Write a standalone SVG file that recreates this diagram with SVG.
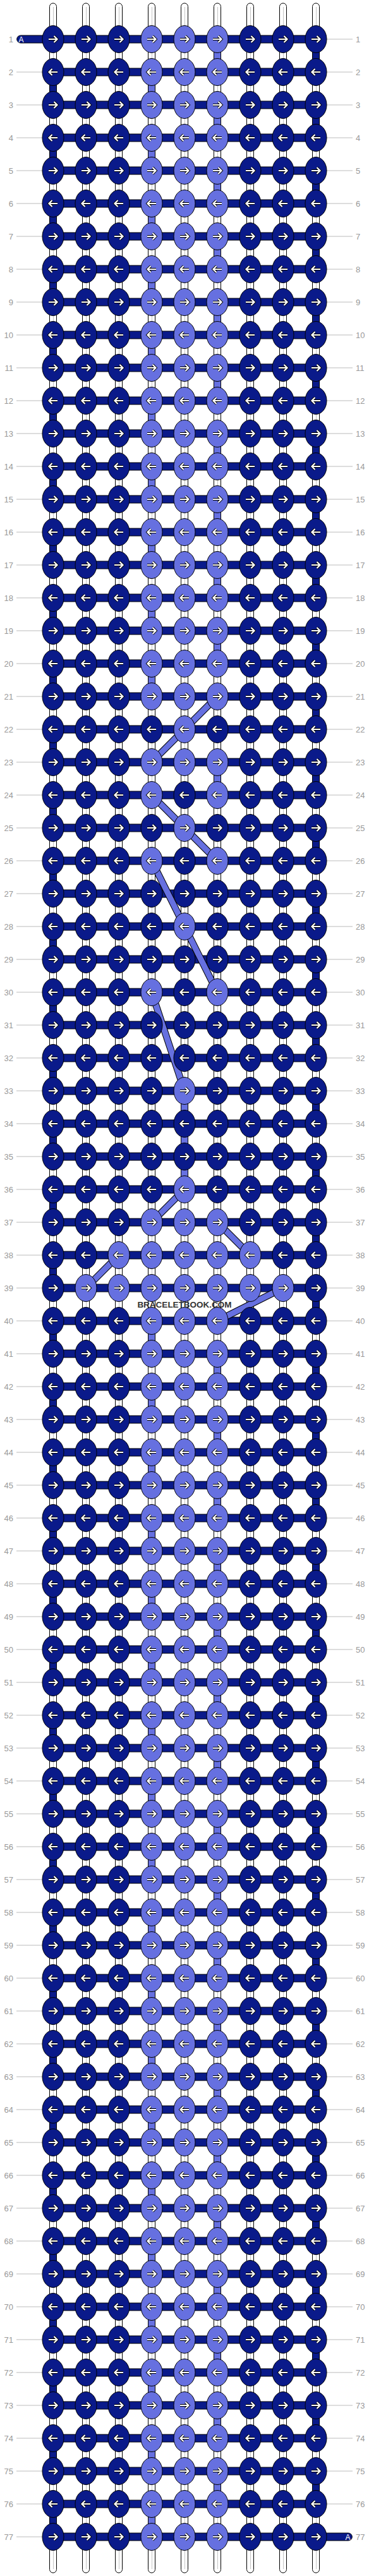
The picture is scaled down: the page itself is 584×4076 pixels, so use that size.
<svg xmlns="http://www.w3.org/2000/svg" xmlns:xlink="http://www.w3.org/1999/xlink" width="584" height="4076" viewBox="0 0 584 4076">
<defs>
<style>
.kn{fill:#0a1a8a;stroke:#000;stroke-width:1}
.kl{fill:#6670e0;stroke:#000;stroke-width:1}
.ao{fill:none;stroke:#000;stroke-width:4}
.aw{fill:none;stroke:#fff;stroke-width:2.2}
.vw{fill:#fff;stroke:#000;stroke-width:1}
.vg{stroke:#c4c4c4;stroke-width:1}
.ln{fill:none;stroke:#bbb;stroke-width:1}
.t{font-family:"Liberation Sans",Arial,sans-serif;font-size:13px;fill:#999}
.e{text-anchor:end}
.d1{fill:none;stroke:#000;stroke-width:11}
.d2{fill:none;stroke:#6670e0;stroke-width:9}
.at{font-family:"Liberation Sans",Arial,sans-serif;font-size:12px;fill:#fff;text-anchor:middle}
</style>
<path id="pr" d="M-7,0H5.5M1.5,-5L6.5,0L1.5,5"/>
<path id="pl" d="M7,0H-5.5M-1.5,-5L-6.5,0L-1.5,5"/>
<g id="NR"><ellipse class="kn" rx="17" ry="21.5"/><use href="#pr" class="ao"/><use href="#pr" class="aw"/></g>
<g id="NL"><ellipse class="kn" rx="17" ry="21.5"/><use href="#pl" class="ao"/><use href="#pl" class="aw"/></g>
<g id="LR"><ellipse class="kl" rx="17" ry="21.5"/><use href="#pr" class="ao"/><use href="#pr" class="aw"/></g>
<g id="LL"><ellipse class="kl" rx="17" ry="21.5"/><use href="#pl" class="ao"/><use href="#pl" class="aw"/></g>
<g id="rO"><use href="#NR" x="84"/><use href="#NR" x="136"/><use href="#NR" x="188"/><use href="#LR" x="240"/><use href="#LR" x="292"/><use href="#LR" x="344"/><use href="#NR" x="396"/><use href="#NR" x="448"/><use href="#NR" x="500"/></g>
<g id="rE"><use href="#NL" x="84"/><use href="#NL" x="136"/><use href="#NL" x="188"/><use href="#LL" x="240"/><use href="#LL" x="292"/><use href="#LL" x="344"/><use href="#NL" x="396"/><use href="#NL" x="448"/><use href="#NL" x="500"/></g>
<g id="rE5"><use href="#NL" x="84"/><use href="#NL" x="136"/><use href="#NL" x="188"/><use href="#NL" x="240"/><use href="#LL" x="292"/><use href="#NL" x="344"/><use href="#NL" x="396"/><use href="#NL" x="448"/><use href="#NL" x="500"/></g>
<g id="rO5"><use href="#NR" x="84"/><use href="#NR" x="136"/><use href="#NR" x="188"/><use href="#NR" x="240"/><use href="#LR" x="292"/><use href="#NR" x="344"/><use href="#NR" x="396"/><use href="#NR" x="448"/><use href="#NR" x="500"/></g>
<g id="rE46"><use href="#NL" x="84"/><use href="#NL" x="136"/><use href="#NL" x="188"/><use href="#LL" x="240"/><use href="#NL" x="292"/><use href="#LL" x="344"/><use href="#NL" x="396"/><use href="#NL" x="448"/><use href="#NL" x="500"/></g>
<g id="rON"><use href="#NR" x="84"/><use href="#NR" x="136"/><use href="#NR" x="188"/><use href="#NR" x="240"/><use href="#NR" x="292"/><use href="#NR" x="344"/><use href="#NR" x="396"/><use href="#NR" x="448"/><use href="#NR" x="500"/></g>
<g id="rEN"><use href="#NL" x="84"/><use href="#NL" x="136"/><use href="#NL" x="188"/><use href="#NL" x="240"/><use href="#NL" x="292"/><use href="#NL" x="344"/><use href="#NL" x="396"/><use href="#NL" x="448"/><use href="#NL" x="500"/></g>
<g id="r38"><use href="#NL" x="84"/><use href="#NL" x="136"/><use href="#LL" x="188"/><use href="#LL" x="240"/><use href="#LL" x="292"/><use href="#LL" x="344"/><use href="#LL" x="396"/><use href="#NL" x="448"/><use href="#NL" x="500"/></g>
<g id="r39"><use href="#NR" x="84"/><use href="#LR" x="136"/><use href="#LR" x="188"/><use href="#LR" x="240"/><use href="#LR" x="292"/><use href="#LR" x="344"/><use href="#LR" x="396"/><use href="#LR" x="448"/><use href="#NR" x="500"/></g>
<g id="nP"><use href="#rO"/><use href="#rE" y="52"/></g>
<g id="vW"><rect class="vw" x="-5.5" width="11" height="52"/><line class="vg" x1="0.5" x2="0.5" y1="0" y2="52"/></g>
<rect id="vN" class="kn" x="-5.5" width="11" height="52"/>
<rect id="vL" class="kl" x="-5.5" width="11" height="52"/>
<g id="gO"><use href="#vW" x="84"/><use href="#vW" x="136"/><use href="#vW" x="188"/><use href="#vW" x="240"/><use href="#vW" x="292"/><use href="#vL" x="344"/><use href="#vW" x="396"/><use href="#vW" x="448"/><use href="#vN" x="500"/></g>
<g id="gE"><use href="#vN" x="84"/><use href="#vW" x="136"/><use href="#vW" x="188"/><use href="#vL" x="240"/><use href="#vW" x="292"/><use href="#vW" x="344"/><use href="#vW" x="396"/><use href="#vW" x="448"/><use href="#vW" x="500"/></g>
<g id="gO0"><use href="#vW" x="84"/><use href="#vW" x="136"/><use href="#vW" x="188"/><use href="#vW" x="240"/><use href="#vW" x="292"/><use href="#vW" x="344"/><use href="#vW" x="396"/><use href="#vW" x="448"/><use href="#vN" x="500"/></g>
<g id="gE0"><use href="#vN" x="84"/><use href="#vW" x="136"/><use href="#vW" x="188"/><use href="#vW" x="240"/><use href="#vW" x="292"/><use href="#vW" x="344"/><use href="#vW" x="396"/><use href="#vW" x="448"/><use href="#vW" x="500"/></g>
<g id="gO5"><use href="#vW" x="84"/><use href="#vW" x="136"/><use href="#vW" x="188"/><use href="#vW" x="240"/><use href="#vL" x="292"/><use href="#vW" x="344"/><use href="#vW" x="396"/><use href="#vW" x="448"/><use href="#vN" x="500"/></g>
<g id="gE5"><use href="#vN" x="84"/><use href="#vW" x="136"/><use href="#vW" x="188"/><use href="#vW" x="240"/><use href="#vL" x="292"/><use href="#vW" x="344"/><use href="#vW" x="396"/><use href="#vW" x="448"/><use href="#vW" x="500"/></g>
<g id="gP"><use href="#gO"/><use href="#gE" y="52"/></g>
<g id="st"><rect class="vw" x="-5.5" y="5" width="11" height="70" rx="5.5"/><line class="vg" x1="0.5" x2="0.5" y1="11" y2="75"/></g>
<g id="sb"><rect class="vw" x="-5.5" y="3990" width="11" height="81" rx="5.5"/><line class="vg" x1="0.5" x2="0.5" y1="3990" y2="4065"/></g>
<g id="bl"><rect class="kn" x="84" y="-6" width="416" height="12"/><path class="ln" d="M26,0H67M517,0H558"/></g>
<path id="dg" d="M344,1102L292,1154M292,1154L240,1206M240,1258L292,1310M292,1310L344,1362M240,1362L292,1466M292,1466L344,1570M240,1570L292,1726M292,1882L240,1934M344,1934L396,1986M188,1986L136,2038M448,2038L344,2090"/>
</defs>
<rect width="584" height="4076" fill="#fff"/>
<g id="strands">
<use href="#st" x="84"/><use href="#st" x="136"/><use href="#st" x="188"/><use href="#st" x="240"/><use href="#st" x="292"/><use href="#st" x="344"/><use href="#st" x="396"/><use href="#st" x="448"/><use href="#st" x="500"/>
<use href="#sb" x="84"/><use href="#sb" x="136"/><use href="#sb" x="188"/><use href="#sb" x="240"/><use href="#sb" x="292"/><use href="#sb" x="344"/><use href="#sb" x="396"/><use href="#sb" x="448"/><use href="#sb" x="500"/>
</g>
<g id="connectors">
<use href="#gP" y="62"/><use href="#gP" y="166"/><use href="#gP" y="270"/><use href="#gP" y="374"/><use href="#gP" y="478"/><use href="#gP" y="582"/><use href="#gP" y="686"/><use href="#gP" y="790"/><use href="#gP" y="894"/><use href="#gP" y="998"/>
<use href="#gO0" y="1102"/><use href="#gE0" y="1154"/><use href="#gO" y="1206"/><use href="#gE0" y="1258"/><use href="#gO0" y="1310"/><use href="#gE0" y="1362"/><use href="#gO0" y="1414"/><use href="#gE0" y="1466"/><use href="#gO0" y="1518"/><use href="#gE0" y="1570"/><use href="#gO0" y="1622"/><use href="#gE0" y="1674"/><use href="#gO5" y="1726"/><use href="#gE5" y="1778"/><use href="#gO5" y="1830"/><use href="#gE0" y="1882"/><use href="#gO0" y="1934"/><use href="#gE0" y="1986"/><use href="#gO0" y="2038"/><use href="#gE" y="2090"/>
<use href="#gP" y="2142"/><use href="#gP" y="2246"/><use href="#gP" y="2350"/><use href="#gP" y="2454"/><use href="#gP" y="2558"/><use href="#gP" y="2662"/><use href="#gP" y="2766"/><use href="#gP" y="2870"/><use href="#gP" y="2974"/><use href="#gP" y="3078"/><use href="#gP" y="3182"/><use href="#gP" y="3286"/><use href="#gP" y="3390"/><use href="#gP" y="3494"/><use href="#gP" y="3598"/><use href="#gP" y="3702"/><use href="#gP" y="3806"/><use href="#gP" y="3910"/>
</g>
<g id="bars">
<rect class="kn" x="26.7" y="56" width="473.3" height="12" rx="6"/><path class="ln" d="M517,62H558"/>
<use href="#bl" y="114"/><use href="#bl" y="166"/><use href="#bl" y="218"/><use href="#bl" y="270"/><use href="#bl" y="322"/><use href="#bl" y="374"/><use href="#bl" y="426"/><use href="#bl" y="478"/><use href="#bl" y="530"/><use href="#bl" y="582"/><use href="#bl" y="634"/><use href="#bl" y="686"/><use href="#bl" y="738"/><use href="#bl" y="790"/><use href="#bl" y="842"/><use href="#bl" y="894"/><use href="#bl" y="946"/><use href="#bl" y="998"/><use href="#bl" y="1050"/>
<use href="#bl" y="1102"/><use href="#bl" y="1154"/><use href="#bl" y="1206"/><use href="#bl" y="1258"/><use href="#bl" y="1310"/><use href="#bl" y="1362"/><use href="#bl" y="1414"/><use href="#bl" y="1466"/><use href="#bl" y="1518"/><use href="#bl" y="1570"/><use href="#bl" y="1622"/><use href="#bl" y="1674"/><use href="#bl" y="1726"/><use href="#bl" y="1778"/><use href="#bl" y="1830"/><use href="#bl" y="1882"/><use href="#bl" y="1934"/><use href="#bl" y="1986"/><use href="#bl" y="2038"/><use href="#bl" y="2090"/>
<use href="#bl" y="2142"/><use href="#bl" y="2194"/><use href="#bl" y="2246"/><use href="#bl" y="2298"/><use href="#bl" y="2350"/><use href="#bl" y="2402"/><use href="#bl" y="2454"/><use href="#bl" y="2506"/><use href="#bl" y="2558"/><use href="#bl" y="2610"/><use href="#bl" y="2662"/><use href="#bl" y="2714"/><use href="#bl" y="2766"/><use href="#bl" y="2818"/><use href="#bl" y="2870"/><use href="#bl" y="2922"/><use href="#bl" y="2974"/><use href="#bl" y="3026"/><use href="#bl" y="3078"/><use href="#bl" y="3130"/>
<use href="#bl" y="3182"/><use href="#bl" y="3234"/><use href="#bl" y="3286"/><use href="#bl" y="3338"/><use href="#bl" y="3390"/><use href="#bl" y="3442"/><use href="#bl" y="3494"/><use href="#bl" y="3546"/><use href="#bl" y="3598"/><use href="#bl" y="3650"/><use href="#bl" y="3702"/><use href="#bl" y="3754"/><use href="#bl" y="3806"/><use href="#bl" y="3858"/><use href="#bl" y="3910"/><use href="#bl" y="3962"/>
<rect class="kn" x="84" y="4008" width="473.3" height="12" rx="6"/><path class="ln" d="M26,4014H67"/>
<text class="at" x="33.5" y="66.5">A</text><text class="at" x="550.5" y="4018.5">A</text>
</g>
<g id="diagonals"><use href="#dg" class="d1"/><use href="#dg" class="d2"/></g>
<g id="knots">
<use href="#nP" y="62"/><use href="#nP" y="166"/><use href="#nP" y="270"/><use href="#nP" y="374"/><use href="#nP" y="478"/><use href="#nP" y="582"/><use href="#nP" y="686"/><use href="#nP" y="790"/><use href="#nP" y="894"/><use href="#nP" y="998"/>
<use href="#rO" y="1102"/><use href="#rE5" y="1154"/><use href="#rO" y="1206"/><use href="#rE46" y="1258"/><use href="#rO5" y="1310"/><use href="#rE46" y="1362"/><use href="#rON" y="1414"/><use href="#rE5" y="1466"/><use href="#rON" y="1518"/><use href="#rE46" y="1570"/><use href="#rON" y="1622"/><use href="#rEN" y="1674"/><use href="#rO5" y="1726"/><use href="#rEN" y="1778"/><use href="#rON" y="1830"/><use href="#rE5" y="1882"/><use href="#rO" y="1934"/><use href="#r38" y="1986"/><use href="#r39" y="2038"/><use href="#rE" y="2090"/>
<use href="#nP" y="2142"/><use href="#nP" y="2246"/><use href="#nP" y="2350"/><use href="#nP" y="2454"/><use href="#nP" y="2558"/><use href="#nP" y="2662"/><use href="#nP" y="2766"/><use href="#nP" y="2870"/><use href="#nP" y="2974"/><use href="#nP" y="3078"/><use href="#nP" y="3182"/><use href="#nP" y="3286"/><use href="#nP" y="3390"/><use href="#nP" y="3494"/><use href="#nP" y="3598"/><use href="#nP" y="3702"/><use href="#nP" y="3806"/><use href="#nP" y="3910"/>
<use href="#rO" y="4014"/>
</g>
<g id="labels">
<text class="t e" x="21" y="66.5">1</text><text class="t" x="563" y="66.5">1</text>
<text class="t e" x="21" y="118.5">2</text><text class="t" x="563" y="118.5">2</text>
<text class="t e" x="21" y="170.5">3</text><text class="t" x="563" y="170.5">3</text>
<text class="t e" x="21" y="222.5">4</text><text class="t" x="563" y="222.5">4</text>
<text class="t e" x="21" y="274.5">5</text><text class="t" x="563" y="274.5">5</text>
<text class="t e" x="21" y="326.5">6</text><text class="t" x="563" y="326.5">6</text>
<text class="t e" x="21" y="378.5">7</text><text class="t" x="563" y="378.5">7</text>
<text class="t e" x="21" y="430.5">8</text><text class="t" x="563" y="430.5">8</text>
<text class="t e" x="21" y="482.5">9</text><text class="t" x="563" y="482.5">9</text>
<text class="t e" x="21" y="534.5">10</text><text class="t" x="563" y="534.5">10</text>
<text class="t e" x="21" y="586.5">11</text><text class="t" x="563" y="586.5">11</text>
<text class="t e" x="21" y="638.5">12</text><text class="t" x="563" y="638.5">12</text>
<text class="t e" x="21" y="690.5">13</text><text class="t" x="563" y="690.5">13</text>
<text class="t e" x="21" y="742.5">14</text><text class="t" x="563" y="742.5">14</text>
<text class="t e" x="21" y="794.5">15</text><text class="t" x="563" y="794.5">15</text>
<text class="t e" x="21" y="846.5">16</text><text class="t" x="563" y="846.5">16</text>
<text class="t e" x="21" y="898.5">17</text><text class="t" x="563" y="898.5">17</text>
<text class="t e" x="21" y="950.5">18</text><text class="t" x="563" y="950.5">18</text>
<text class="t e" x="21" y="1002.5">19</text><text class="t" x="563" y="1002.5">19</text>
<text class="t e" x="21" y="1054.5">20</text><text class="t" x="563" y="1054.5">20</text>
<text class="t e" x="21" y="1106.5">21</text><text class="t" x="563" y="1106.5">21</text>
<text class="t e" x="21" y="1158.5">22</text><text class="t" x="563" y="1158.5">22</text>
<text class="t e" x="21" y="1210.5">23</text><text class="t" x="563" y="1210.5">23</text>
<text class="t e" x="21" y="1262.5">24</text><text class="t" x="563" y="1262.5">24</text>
<text class="t e" x="21" y="1314.5">25</text><text class="t" x="563" y="1314.5">25</text>
<text class="t e" x="21" y="1366.5">26</text><text class="t" x="563" y="1366.5">26</text>
<text class="t e" x="21" y="1418.5">27</text><text class="t" x="563" y="1418.5">27</text>
<text class="t e" x="21" y="1470.5">28</text><text class="t" x="563" y="1470.5">28</text>
<text class="t e" x="21" y="1522.5">29</text><text class="t" x="563" y="1522.5">29</text>
<text class="t e" x="21" y="1574.5">30</text><text class="t" x="563" y="1574.5">30</text>
<text class="t e" x="21" y="1626.5">31</text><text class="t" x="563" y="1626.5">31</text>
<text class="t e" x="21" y="1678.5">32</text><text class="t" x="563" y="1678.5">32</text>
<text class="t e" x="21" y="1730.5">33</text><text class="t" x="563" y="1730.5">33</text>
<text class="t e" x="21" y="1782.5">34</text><text class="t" x="563" y="1782.5">34</text>
<text class="t e" x="21" y="1834.5">35</text><text class="t" x="563" y="1834.5">35</text>
<text class="t e" x="21" y="1886.5">36</text><text class="t" x="563" y="1886.5">36</text>
<text class="t e" x="21" y="1938.5">37</text><text class="t" x="563" y="1938.5">37</text>
<text class="t e" x="21" y="1990.5">38</text><text class="t" x="563" y="1990.5">38</text>
<text class="t e" x="21" y="2042.5">39</text><text class="t" x="563" y="2042.5">39</text>
<text class="t e" x="21" y="2094.5">40</text><text class="t" x="563" y="2094.5">40</text>
<text class="t e" x="21" y="2146.5">41</text><text class="t" x="563" y="2146.5">41</text>
<text class="t e" x="21" y="2198.5">42</text><text class="t" x="563" y="2198.5">42</text>
<text class="t e" x="21" y="2250.5">43</text><text class="t" x="563" y="2250.5">43</text>
<text class="t e" x="21" y="2302.5">44</text><text class="t" x="563" y="2302.5">44</text>
<text class="t e" x="21" y="2354.5">45</text><text class="t" x="563" y="2354.5">45</text>
<text class="t e" x="21" y="2406.5">46</text><text class="t" x="563" y="2406.5">46</text>
<text class="t e" x="21" y="2458.5">47</text><text class="t" x="563" y="2458.5">47</text>
<text class="t e" x="21" y="2510.5">48</text><text class="t" x="563" y="2510.5">48</text>
<text class="t e" x="21" y="2562.5">49</text><text class="t" x="563" y="2562.5">49</text>
<text class="t e" x="21" y="2614.5">50</text><text class="t" x="563" y="2614.5">50</text>
<text class="t e" x="21" y="2666.5">51</text><text class="t" x="563" y="2666.5">51</text>
<text class="t e" x="21" y="2718.5">52</text><text class="t" x="563" y="2718.5">52</text>
<text class="t e" x="21" y="2770.5">53</text><text class="t" x="563" y="2770.5">53</text>
<text class="t e" x="21" y="2822.5">54</text><text class="t" x="563" y="2822.5">54</text>
<text class="t e" x="21" y="2874.5">55</text><text class="t" x="563" y="2874.5">55</text>
<text class="t e" x="21" y="2926.5">56</text><text class="t" x="563" y="2926.5">56</text>
<text class="t e" x="21" y="2978.5">57</text><text class="t" x="563" y="2978.5">57</text>
<text class="t e" x="21" y="3030.5">58</text><text class="t" x="563" y="3030.5">58</text>
<text class="t e" x="21" y="3082.5">59</text><text class="t" x="563" y="3082.5">59</text>
<text class="t e" x="21" y="3134.5">60</text><text class="t" x="563" y="3134.5">60</text>
<text class="t e" x="21" y="3186.5">61</text><text class="t" x="563" y="3186.5">61</text>
<text class="t e" x="21" y="3238.5">62</text><text class="t" x="563" y="3238.5">62</text>
<text class="t e" x="21" y="3290.5">63</text><text class="t" x="563" y="3290.5">63</text>
<text class="t e" x="21" y="3342.5">64</text><text class="t" x="563" y="3342.5">64</text>
<text class="t e" x="21" y="3394.5">65</text><text class="t" x="563" y="3394.5">65</text>
<text class="t e" x="21" y="3446.5">66</text><text class="t" x="563" y="3446.5">66</text>
<text class="t e" x="21" y="3498.5">67</text><text class="t" x="563" y="3498.5">67</text>
<text class="t e" x="21" y="3550.5">68</text><text class="t" x="563" y="3550.5">68</text>
<text class="t e" x="21" y="3602.5">69</text><text class="t" x="563" y="3602.5">69</text>
<text class="t e" x="21" y="3654.5">70</text><text class="t" x="563" y="3654.5">70</text>
<text class="t e" x="21" y="3706.5">71</text><text class="t" x="563" y="3706.5">71</text>
<text class="t e" x="21" y="3758.5">72</text><text class="t" x="563" y="3758.5">72</text>
<text class="t e" x="21" y="3810.5">73</text><text class="t" x="563" y="3810.5">73</text>
<text class="t e" x="21" y="3862.5">74</text><text class="t" x="563" y="3862.5">74</text>
<text class="t e" x="21" y="3914.5">75</text><text class="t" x="563" y="3914.5">75</text>
<text class="t e" x="21" y="3966.5">76</text><text class="t" x="563" y="3966.5">76</text>
<text class="t e" x="21" y="4018.5">77</text><text class="t" x="563" y="4018.5">77</text>
</g>
<text x="292" y="2069" text-anchor="middle" font-family="'Liberation Sans',Arial,sans-serif" font-size="13.5" font-weight="bold" fill="#333">BRACELETBOOK.COM</text>
</svg>
